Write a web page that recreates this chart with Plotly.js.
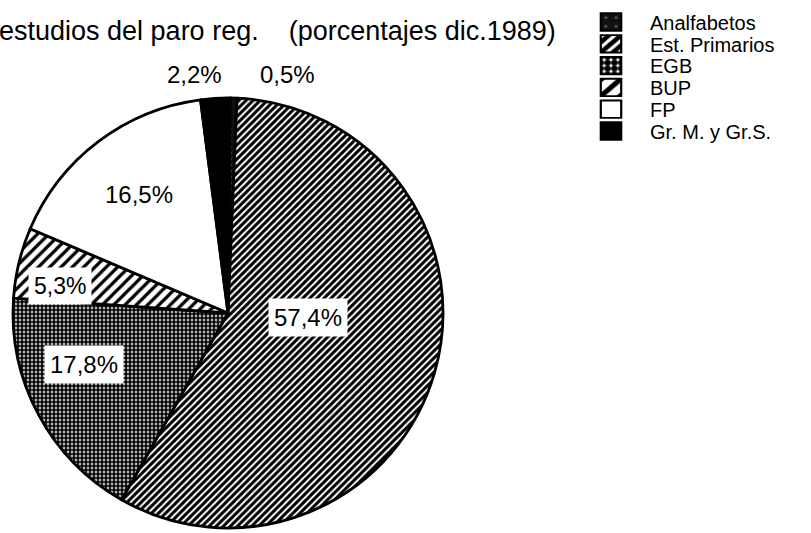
<!DOCTYPE html>
<html>
<head>
<meta charset="utf-8">
<script src="https://cdn.plot.ly/plotly-3.0.1.min.js"></script>
<style>
  html, body { margin: 0; padding: 0; background: #fff; overflow: hidden; }
  #chart { width: 811px; height: 533px; }
</style>
</head>
<body>
<div id="chart"></div>
<script>
// ---- data ----
var categories = ["Analfabetos", "Est. Primarios", "EGB", "BUP", "FP", "Gr. M. y Gr.S."];
var values = [0.5, 57.4, 17.8, 5.3, 16.5, 2.2];
var valueLabels = ["0,5%", "57,4%", "17,8%", "5,3%", "16,5%", "2,2%"];
var titleText = "estudios del paro reg.&nbsp;&nbsp;&nbsp;&nbsp;(porcentajes dic.1989)";

// ---- styles ----
var W = 811, H = 533;
var cx = 228, cy = 313, R = 215;
var fills = ["#111111", "#ffffff", "#ffffff", "#ffffff", "#ffffff", "#000000"];
var patterns = [
  {shape: ".", fgcolor: "#666666", bgcolor: "#111111", size: 6, solidity: 0.06},
  {shape: "/", fgcolor: "#000000", bgcolor: "#ffffff", size: 5, solidity: 0.6},
  {shape: ".", fgcolor: "#000000", bgcolor: "#ffffff", size: 4, solidity: 0.75},
  {shape: "/", fgcolor: "#000000", bgcolor: "#ffffff", size: 8, solidity: 0.4},
  {shape: "", fgcolor: "#000000", bgcolor: "#ffffff"},
  {shape: "", fgcolor: "#000000", bgcolor: "#000000"}
];
// label placement (pixel centres) and whether boxed
var labelPos = [[287, 75], [308, 317], [84, 364], [60, 286], [139, 194], [194, 75]];
var labelBox = [false, true, true, true, false, false];
var labelSize = [24, 24, 24, 23, 24, 24];
var legendTop = 22, legendStep = 21.8;

function px(x) { return x / W; }
function py(y) { return 1 - y / H; }

var trace = {
  type: "pie",
  labels: categories,
  values: values,
  sort: false,
  direction: "clockwise",
  rotation: 0.6,
  textinfo: "none",
  hoverinfo: "label+percent",
  marker: {
    colors: fills,
    line: {color: "#000000", width: 2.8},
    pattern: {
      shape: patterns.map(function (p) { return p.shape; }),
      fgcolor: patterns.map(function (p) { return p.fgcolor; }),
      bgcolor: patterns.map(function (p) { return p.bgcolor; }),
      size: patterns.map(function (p) { return p.size || 6; }),
      solidity: patterns.map(function (p) { return p.solidity || 0.3; }),
      fillmode: "replace"
    }
  },
  domain: {x: [px(cx - R), px(cx + R)], y: [py(cy + R), py(cy - R)]},
  showlegend: true
};

var annotations = valueLabels.map(function (t, i) {
  return {
    text: t,
    x: px(labelPos[i][0]), y: py(labelPos[i][1]),
    xref: "paper", yref: "paper",
    xanchor: "center", yanchor: "middle",
    showarrow: false,
    bgcolor: labelBox[i] ? "#ffffff" : "rgba(0,0,0,0)",
    borderpad: labelBox[i] ? 5 : 0,
    font: {family: "Liberation Sans, Arial, sans-serif", size: labelSize[i], color: "#000"}
  };
});
annotations.push({
  text: titleText,
  x: px(-3), y: py(31),
  xref: "paper", yref: "paper",
  xanchor: "left", yanchor: "middle",
  showarrow: false,
  font: {family: "Liberation Sans, Arial, sans-serif", size: 27, color: "#000"}
});

var layout = {
  width: W, height: H,
  margin: {l: 0, r: 0, t: 0, b: 0, pad: 0},
  paper_bgcolor: "#ffffff",
  plot_bgcolor: "#ffffff",
  showlegend: true,
  legend: {
    x: px(572), y: py(8),
    xanchor: "left", yanchor: "top",
    traceorder: "normal",
    itemwidth: 68,
    font: {family: "Liberation Sans, Arial, sans-serif", size: 20, color: "#000"},
    bgcolor: "rgba(0,0,0,0)",
    borderwidth: 0,
    itemclick: false
  },
  annotations: annotations
};

Plotly.newPlot("chart", [trace], layout, {displayModeBar: false, staticPlot: true}).then(function (gd) {
  // enlarge legend swatches and give them an outline, as in the reference
  gd.querySelectorAll(".legendpoints path").forEach(function (p) {
    var t = p.getAttribute("transform") || "";
    p.setAttribute("transform", t + " scale(1.7,1.45)");
    p.style.stroke = "#000000";
    p.style.strokeWidth = "1.3px";
  });
  // tighter legend row spacing, as in the reference
  var legendG = gd.querySelector(".infolayer .legend");
  var baseY = 0;
  if (legendG) {
    var m = /translate\(\s*([-\d.]+)[ ,]+([-\d.]+)/.exec(legendG.getAttribute("transform") || "");
    if (m) baseY = parseFloat(m[2]);
  }
  gd.querySelectorAll(".legend .traces").forEach(function (g, i) {
    var m = /translate\(\s*([-\d.]+)[ ,]+([-\d.]+)/.exec(g.getAttribute("transform") || "");
    var x = m ? parseFloat(m[1]) : 0;
    g.setAttribute("transform", "translate(" + x + "," + (legendTop - baseY + i * legendStep) + ")");
  });
});
</script>
</body>
</html>
